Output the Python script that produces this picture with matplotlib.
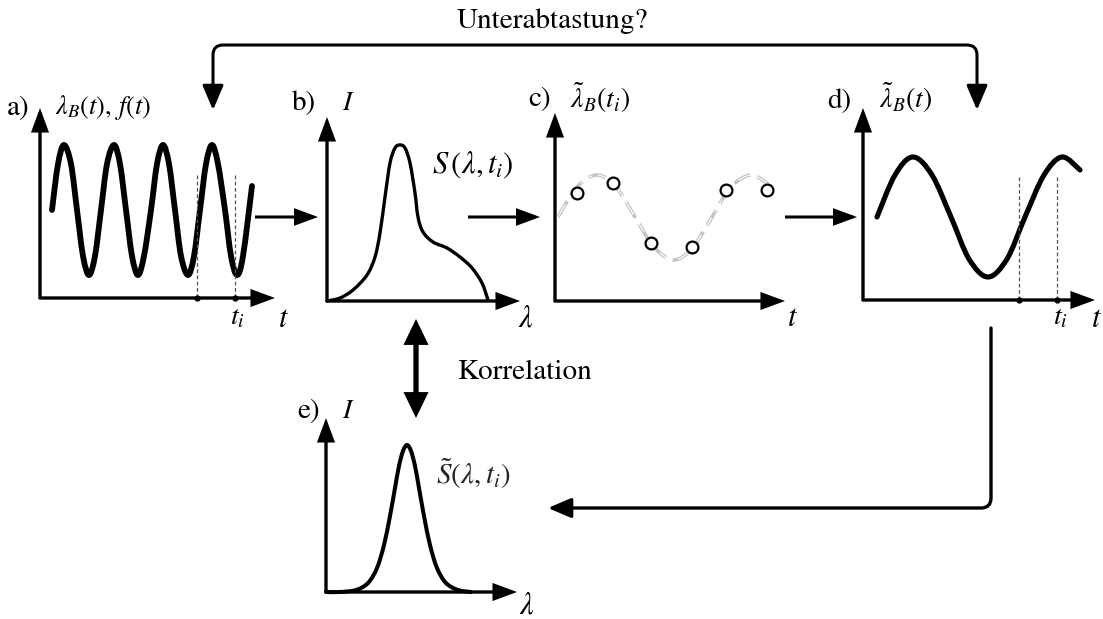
import numpy as np
import matplotlib
matplotlib.use("Agg")
import matplotlib.pyplot as plt
from matplotlib.path import Path
from matplotlib.patches import PathPatch, FancyArrowPatch

plt.rcParams["font.family"] = ["STIXGeneral", "DejaVu Serif"]
plt.rcParams["mathtext.fontset"] = "stix"

# ---- values (panel-local pixels, x right, y up from the axis corner) ----
a_x = [12, 18, 24, 31, 37, 43, 49, 55, 61, 67, 74, 80, 86, 92, 98, 104, 111,
       117, 123, 129, 135, 141, 148, 154, 160, 166, 172, 178, 185, 191, 197, 203, 212]
a_y = [88, 134, 153, 134, 88, 42, 23, 42, 88, 134, 153, 134, 88, 42, 23, 42, 88,
       134, 153, 134, 88, 42, 23, 42, 88, 134, 153, 134, 88, 42, 23, 42, 112]
a_ti = [157, 195]

b_x = [0, 13, 26, 40, 48, 53, 58, 63, 68, 73, 78, 83, 88, 91, 96, 106, 120, 133, 145, 155, 161]
b_y = [0, 3, 11, 26, 44, 68, 104, 138, 153, 156, 153, 138, 108, 84, 69, 59, 53, 44, 33, 18, 1]

c_x = [3, 22, 42, 61, 80, 99, 119, 138, 157, 176, 196, 213]
c_y = [84, 114, 126, 114, 84, 54, 41, 54, 84, 114, 126, 117]
c_samp_x = [22, 58, 96, 137, 171, 212]
c_samp_y = [108, 118, 58, 54, 111, 111]

d_x = [14, 32, 50, 69, 88, 106, 125, 144, 162, 181, 199, 217]
d_y = [83, 125, 143, 125, 83, 41, 23, 41, 83, 125, 143, 130]
d_ti = [156, 194]

e_x = [0, 14, 30, 42, 51, 58, 64, 69, 73, 77, 81, 85, 89, 93, 98, 104, 111, 120, 132, 145]
e_y = [0, 0, 2, 9, 24, 47, 76, 104, 126, 141, 147, 141, 126, 104, 76, 47, 24, 9, 2, 0]

# panel frames: axis corner, top of y arrow, end of x arrow
panels = {
    "a": dict(o=(40, 298), ytip=108, xtip=275),
    "b": dict(o=(327, 301), ytip=117, xtip=520),
    "c": dict(o=(555, 301), ytip=113, xtip=785),
    "d": dict(o=(863, 300), ytip=108, xtip=1095),
    "e": dict(o=(326, 592), ytip=418, xtip=517),
}


def to_fig(p, xs, ys):
    ox, oy = panels[p]["o"]
    return np.asarray(xs, float) + ox, oy - np.asarray(ys, float)


def smooth(xs, ys):
    pts = np.column_stack([xs, ys])
    ext = np.vstack([pts[0], pts, pts[-1]])
    verts, codes = [pts[0]], [Path.MOVETO]
    for i in range(1, len(ext) - 2):
        p0, p1, p2, p3 = ext[i - 1], ext[i], ext[i + 1], ext[i + 2]
        verts += [p1 + (p2 - p0) / 6, p2 - (p3 - p1) / 6, p2]
        codes += [Path.CURVE4] * 3
    return Path(verts, codes)


def arrow(ax, a, b, lw=2.2, hl=0.65, hw=0.24, ms=20, style="-|>", cap="butt"):
    ax.add_patch(FancyArrowPatch(a, b, arrowstyle=f"{style},head_length={hl},head_width={hw}",
                                 mutation_scale=ms, lw=lw, color="black", shrinkA=0, shrinkB=0,
                                 capstyle=cap, joinstyle="miter"))


def path_arrow(ax, verts, codes, style="-|>", lw=2.2, hl=0.7, hw=0.3):
    ax.add_patch(FancyArrowPatch(path=Path(verts, codes),
                                 arrowstyle=f"{style},head_length={hl},head_width={hw}",
                                 mutation_scale=20, lw=lw, color="black", joinstyle="round"))


fig = plt.figure(figsize=(11.03, 6.19), dpi=100)
ax = fig.add_axes([0, 0, 1, 1])
ax.set_xlim(0, 1103)
ax.set_ylim(619, 0)
ax.axis("off")

# axes of each panel
for p, f in panels.items():
    ox, oy = f["o"]
    arrow(ax, (ox, oy + 1), (ox, f["ytip"]), lw=2.4)
    arrow(ax, (ox - 1, oy), (f["xtip"], oy), lw=2.4)

# a) fast oscillation
x, y = to_fig("a", a_x, a_y)
ax.add_patch(PathPatch(smooth(x, y), fill=False, lw=4.2, capstyle="round", joinstyle="round"))
for t in a_ti:
    tx, _ = to_fig("a", [t], [0])
    ax.plot([tx[0], tx[0]], [175, 298], ls=(0, (3, 2)), lw=0.9, color="#555555")
    ax.plot(tx, [298], "o", ms=3.5, color="black")

# b) measured spectrum
x, y = to_fig("b", b_x, b_y)
ax.add_patch(PathPatch(smooth(x, y), fill=False, lw=2.4, capstyle="round", joinstyle="round"))

# c) sampled values over the gray reference
x, y = to_fig("c", c_x, c_y)
ax.add_patch(PathPatch(smooth(x, y), fill=False, lw=2.6, ls=(0, (5, 2)), color="#c4c4c4"))
ax.add_patch(PathPatch(smooth(x, y), fill=False, lw=0.8, ls=(0, (13, 5.2)), color="white"))
sx, sy = to_fig("c", c_samp_x, c_samp_y)
ax.plot(sx, sy, "o", ms=8.5, mfc="white", mec="black", mew=1.6)

# d) reconstructed slow signal
x, y = to_fig("d", d_x, d_y)
ax.add_patch(PathPatch(smooth(x, y), fill=False, lw=3.7, capstyle="round", joinstyle="round"))
for t in d_ti:
    tx, _ = to_fig("d", [t], [0])
    ax.plot([tx[0], tx[0]], [177, 300], ls=(0, (3, 2)), lw=0.9, color="#555555")
    ax.plot(tx, [300], "o", ms=3.5, color="black")

# e) corrected spectrum
x, y = to_fig("e", e_x, e_y)
ax.add_patch(PathPatch(smooth(x, y), fill=False, lw=2.9, capstyle="round", joinstyle="round"))

# flow arrows
arrow(ax, (255, 217), (318, 217))
arrow(ax, (468, 217), (540, 217))
arrow(ax, (785, 217), (857, 217))
arrow(ax, (416, 319), (416, 418), lw=3.8, hl=0.62, hw=0.3, style="<|-|>")

# feedback loop on top
r = 10
top = [(213, 110), (213, 45 + r), (213, 45), (213 + r, 45), (977 - r, 45), (977, 45),
       (977, 45 + r), (977, 110)]
codes = [Path.MOVETO, Path.LINETO, Path.CURVE3, Path.CURVE3, Path.LINETO, Path.CURVE3,
         Path.CURVE3, Path.LINETO]
path_arrow(ax, top, codes, style="<|-|>", lw=2.2, hl=0.75, hw=0.32)

# return path from d) to e)
bot = [(991, 328), (991, 508 - r), (991, 508), (991 - r, 508), (548, 508)]
codes = [Path.MOVETO, Path.LINETO, Path.CURVE3, Path.CURVE3, Path.LINETO]
path_arrow(ax, bot, codes, style="-|>", lw=2.4, hl=0.7, hw=0.3)

# texts
fs = 21
ax.text(552, 21, "Unterabtastung?", fontsize=fs, ha="center", va="center")
ax.text(457, 379, "Korrelation", fontsize=fs, ha="left", va="baseline")
for lab, (lx, ly) in {"a)": (7, 108), "b)": (292, 103), "c)": (528, 99),
                      "d)": (827, 101), "e)": (297, 411)}.items():
    ax.text(lx, ly, lab, fontsize=fs, ha="left", va="center")

ax.text(55, 108, r"$\lambda_B(t),\, f(t)$", fontsize=19, ha="left", va="center")
ax.text(342, 103, r"$I$", fontsize=20, ha="left", va="center")
ax.text(570, 98, r"$\tilde{\lambda}_B(t_i)$", fontsize=20, ha="left", va="center")
ax.text(879, 98, r"$\tilde{\lambda}_B(t)$", fontsize=20, ha="left", va="center")
ax.text(342, 411, r"$I$", fontsize=20, ha="left", va="center")
ax.text(432, 165, r"$S\,\left(\lambda,t_i\right)$", fontsize=22, ha="left", va="center")
ax.text(436, 474, r"$\tilde{S}(\lambda,t_i)$", fontsize=21, ha="left", va="center",
        color="#2a2220")

for tx, ty, s in [(237, 318, r"$t_i$"), (284, 320, r"$t$"), (526, 320, r"$\lambda$"),
                  (793, 319, r"$t$"), (1060, 318, r"$t_i$"), (1097, 320, r"$t$"),
                  (527, 607, r"$\lambda$")]:
    ax.text(tx, ty, s, fontsize=20 if "t_i" in s else 22, ha="center", va="center")

fig.savefig("out.png", dpi=100)
